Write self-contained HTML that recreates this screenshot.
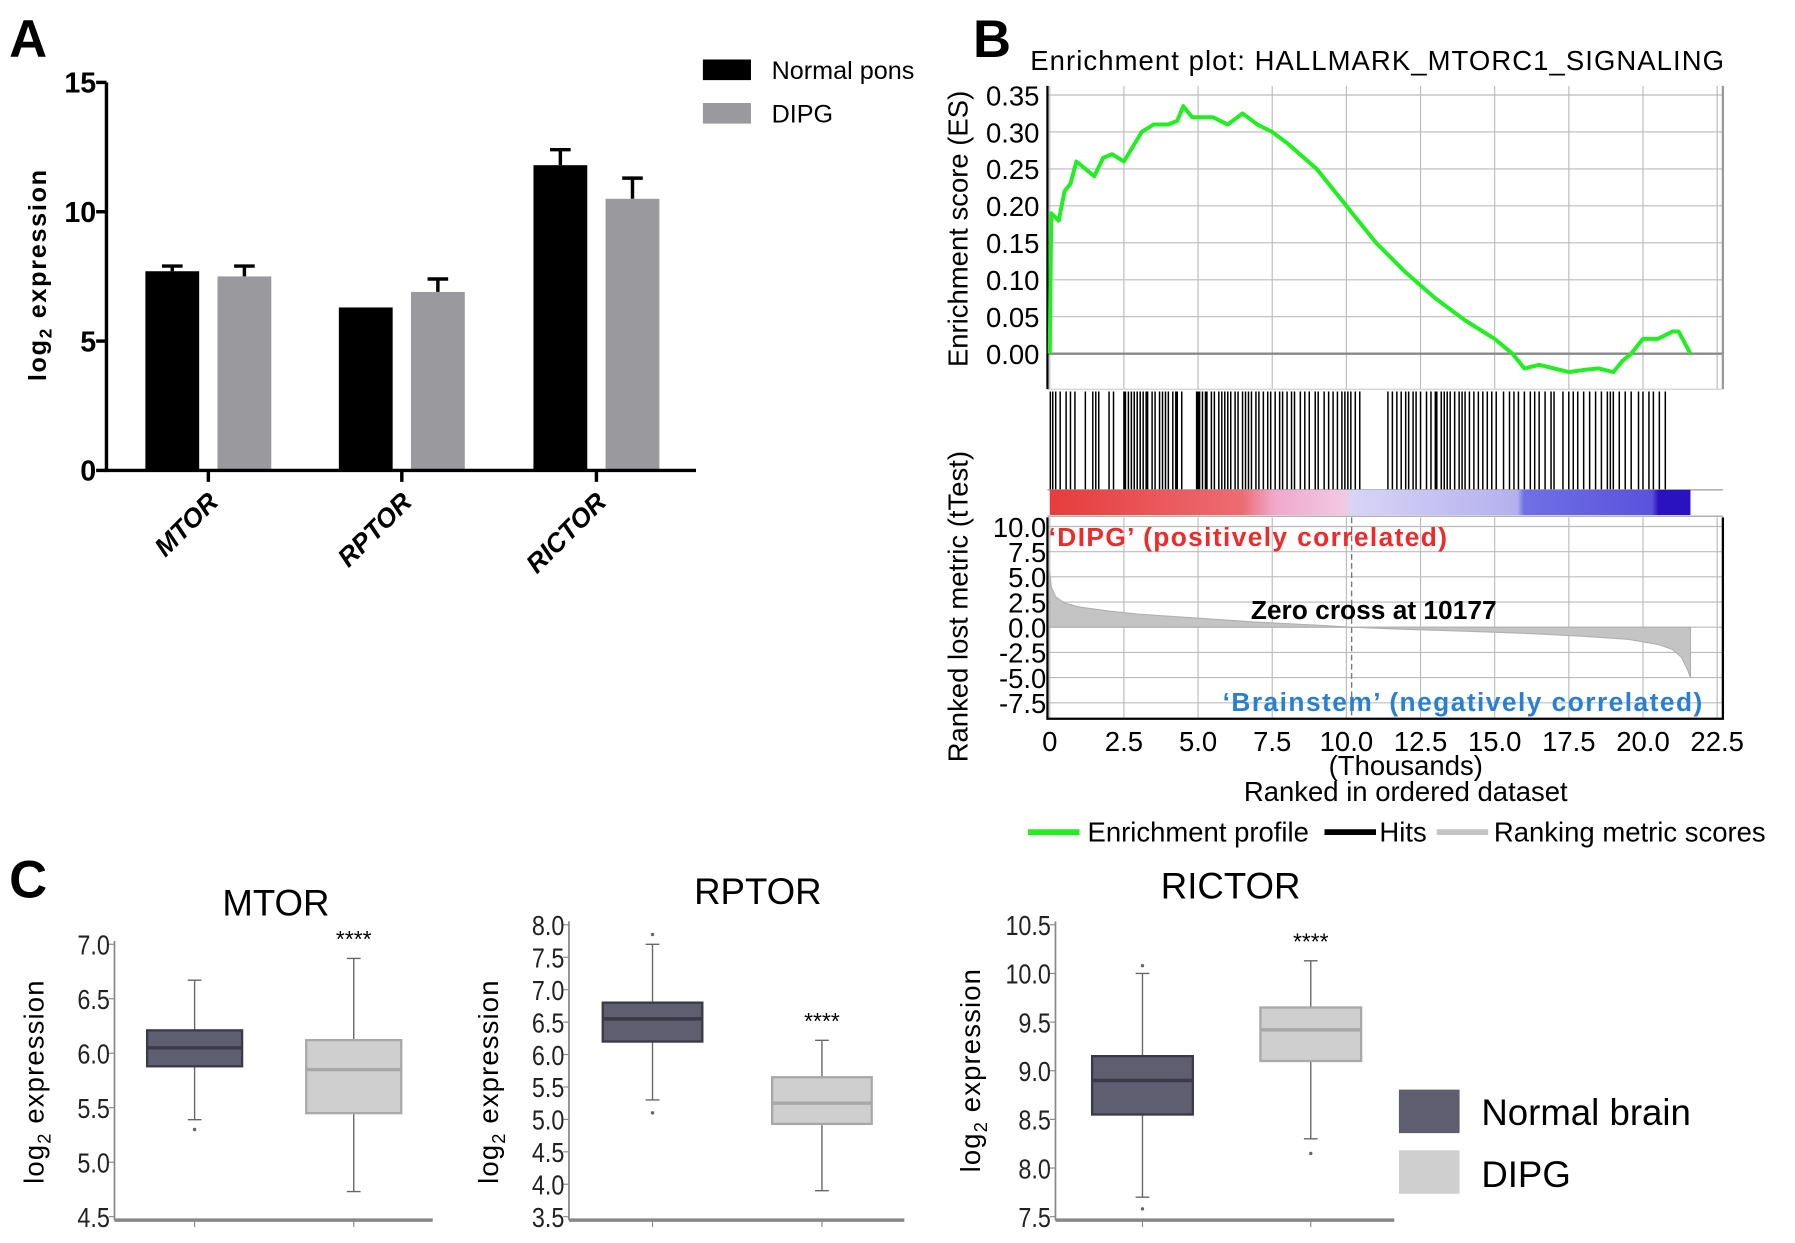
<!DOCTYPE html>
<html><head><meta charset="utf-8"><style>
html,body{margin:0;padding:0;background:#fff;}
svg{display:block;font-family:"Liberation Sans",Arial,sans-serif;}
</style></head><body>
<svg id="fig" width="1795" height="1243" viewBox="0 0 1568 1086" preserveAspectRatio="none" xmlns="http://www.w3.org/2000/svg">
<defs>
<linearGradient id="rankbar" x1="0" x2="1" y1="0" y2="0">
<stop offset="0" stop-color="#e63c3c"/><stop offset="0.3" stop-color="#ec6c72"/>
<stop offset="0.35" stop-color="#f0a8c8"/><stop offset="0.46" stop-color="#f2c8e4"/>
<stop offset="0.47" stop-color="#d8d4f6"/><stop offset="0.73" stop-color="#b4b0ee"/>
<stop offset="0.74" stop-color="#7070e6"/><stop offset="0.94" stop-color="#5a52dc"/>
<stop offset="0.95" stop-color="#2a12c0"/><stop offset="1" stop-color="#2a12c0"/>
</linearGradient>
</defs>
<g id="panelA"></g>
<g id="panelB"></g>
<g id="panelC"></g>
</svg>
<script>
// ---------- Panel A data ----------
const aCategories = ["MTOR","RPTOR","RICTOR"];
const aNormal = [7.7, 6.3, 11.8];
const aNormalErr = [0.2, 0, 0.6];
const aDipg = [7.5, 6.9, 10.5];
const aDipgErr = [0.4, 0.5, 0.8];
const aTicks = [0,5,10,15];

// ---------- Panel B data ----------
const esX = [0,0.05,0.3,0.5,0.7,0.9,1.2,1.5,1.8,2.1,2.5,2.8,3.1,3.5,4,4.3,4.5,4.8,5,5.5,6,6.5,7,7.5,8,9,10,11,12,13,14,15,15.6,16,16.5,17,17.5,18,18.5,19,19.3,19.6,20,20.5,21,21.2,21.6];
const esY = [0,0.19,0.18,0.22,0.23,0.26,0.25,0.24,0.265,0.27,0.26,0.28,0.30,0.31,0.31,0.315,0.335,0.32,0.32,0.32,0.31,0.325,0.31,0.30,0.285,0.25,0.20,0.15,0.11,0.075,0.045,0.02,0.0,-0.02,-0.015,-0.02,-0.025,-0.022,-0.02,-0.025,-0.01,0.0,0.02,0.02,0.03,0.03,0.0];
const hitRanks = [0.02,0.1,0.2,0.35,0.55,0.7,0.85,1.2,1.45,1.55,1.65,2.0,2.15,2.5,2.55,2.65,2.75,2.85,2.95,3.05,3.15,3.25,3.3,3.45,3.55,3.7,3.8,3.9,4.0,4.15,4.25,4.3,4.45,4.95,5.0,5.05,5.15,5.25,5.3,5.45,5.55,5.7,5.8,5.9,6.0,6.1,6.25,6.35,6.5,6.6,6.7,6.8,6.95,7.05,7.2,7.35,7.45,7.6,7.75,7.85,8.0,8.15,8.25,8.45,8.6,8.75,8.95,9.05,9.25,9.4,9.55,9.7,9.85,9.95,10.05,10.15,10.3,10.45,11.4,11.55,11.7,11.85,12.0,12.1,12.25,12.35,12.5,12.7,12.85,13.0,13.05,13.2,13.3,13.4,13.5,13.65,13.8,13.9,14.0,14.15,14.3,14.45,14.6,14.75,14.9,15.05,15.3,15.5,15.65,15.8,16.0,16.2,16.35,16.5,16.7,16.9,17.0,17.3,17.5,17.65,17.8,18.0,18.2,18.4,18.6,18.8,18.9,19.0,19.2,19.4,19.6,19.85,20.0,20.2,20.35,20.55,20.75];
const rankX = [0,0.05,0.2,0.5,1,2,3,5,7,9,10.177,12,14,16,18,19.5,20.5,21,21.3,21.5,21.6,21.6];
const rankY = [5.5,4.0,3.0,2.4,2.0,1.6,1.3,0.9,0.5,0.2,0,-0.2,-0.4,-0.6,-0.9,-1.2,-1.7,-2.2,-3.0,-4.2,-5.0,0];
const esTicks = [0,0.05,0.1,0.15,0.2,0.25,0.3,0.35];
const esTickLabels = ["0.00","0.05","0.10","0.15","0.20","0.25","0.30","0.35"];
const rankTicks = [10,7.5,5,2.5,0,-2.5,-5,-7.5];
const rankTickLabels = ["10.0","7.5","5.0","2.5","0.0","-2.5","-5.0","-7.5"];
const xTicksB = [0,2.5,5,7.5,10,12.5,15,17.5,20,22.5];
const xTickLabelsB = ["0","2.5","5.0","7.5","10.0","12.5","15.0","17.5","20.0","22.5"];
const zeroCross = 10.177;

// ---------- Panel C data ----------
const cGenes = ["MTOR","RPTOR","RICTOR"];
// [whiskerLow, q1, median, q3, whiskerHigh]
const cNormal = [[5.39,5.88,6.05,6.21,6.67],[5.3,6.2,6.55,6.8,7.7],[7.7,8.55,8.9,9.15,10.0]];
const cDipg = [[4.73,5.45,5.85,6.12,6.87],[3.9,4.93,5.25,5.65,6.22],[8.3,9.1,9.42,9.65,10.13]];
const cNormalOut = [[5.3],[5.1,7.85],[7.58,10.08]];
const cDipgOut = [[],[],[8.15]];
const cTickLabels = [["4.5","5.0","5.5","6.0","6.5","7.0"],["3.5","4.0","4.5","5.0","5.5","6.0","6.5","7.0","7.5","8.0"],["7.5","8.0","8.5","9.0","9.5","10.0","10.5"]];
const cRanges = [[4.5,7.0],[3.5,8.0],[7.5,10.5]];

const NS="http://www.w3.org/2000/svg";
function mk(parent,tag,attrs,text){const e=document.createElementNS(NS,tag);for(const k in attrs)e.setAttribute(k,attrs[k]);if(text!==undefined)e.textContent=text;parent.appendChild(e);return e;}

// ===== Panel A =====
(function(){
const g=document.getElementById('panelA');
const y=v=>411-v*(411-72)/15;
const cx=[182,351,521];
let t=mk(g,'text',{x:8,y:50,'font-size':46,'font-weight':'bold'},'A');


aCategories.forEach((c,i)=>{
  const b=mk(g,'rect',{x:cx[i]-55,y:y(aNormal[i]),width:47,height:y(0)-y(aNormal[i]),fill:'#000'});
  
  
  const d=mk(g,'rect',{x:cx[i]+8,y:y(aDipg[i]),width:47,height:y(0)-y(aDipg[i]),fill:'#9a9a9e'});
  
  
  [[cx[i]-31.5,aNormal[i],aNormalErr[i]],[cx[i]+31.5,aDipg[i],aDipgErr[i]]].forEach(([x,v,e])=>{
    if(e>0){const l=mk(g,'path',{d:`M${x} ${y(v)}V${y(v+e)}M${x-9} ${y(v+e)}H${x+9}`,stroke:'#000','stroke-width':3,fill:'none'});
    
    }
  });
  mk(g,'line',{x1:cx[i],x2:cx[i],y1:411,y2:421,stroke:'#000','stroke-width':3});
  const lb=mk(g,'text',{x:0,y:0,'font-size':23,'font-weight':'bold','font-style':'italic','text-anchor':'end',transform:`translate(${cx[i]+10},${440}) rotate(-45)`},c);
  
  
});
mk(g,'path',{d:'M93 72V411H608',stroke:'#000','stroke-width':3,fill:'none'});
aTicks.forEach(v=>{mk(g,'line',{x1:84,x2:93,y1:y(v),y2:y(v),stroke:'#000','stroke-width':3});
  const tl=mk(g,'text',{x:84,y:y(v)+9,'font-size':25,'font-weight':'bold','text-anchor':'end'},String(v));
  
  });
const yl=mk(g,'text',{x:0,y:0,'font-size':22,'font-weight':'bold','text-anchor':'middle',transform:'translate(40,240) rotate(-90)','letter-spacing':'1.5'});
yl.innerHTML='log<tspan font-size="15" dy="5">2</tspan><tspan dy="-5"> expression</tspan>';


const l1=mk(g,'rect',{x:614,y:52,width:42,height:18,fill:'#000'});


mk(g,'text',{x:674,y:69,'font-size':22},'Normal pons');
const l2=mk(g,'rect',{x:614,y:90,width:42,height:18,fill:'#9a9a9e'});


mk(g,'text',{x:674,y:107,'font-size':22},'DIPG');
})();

// ===== Panel B =====
(function(){
const g=document.getElementById('panelB');
const X=k=>917+k*(1500-917)/22.5;
const Yes=v=>309-v*(309-83)/0.35;
const Yr=v=>548-v*(548-460)/10;
let t=mk(g,'text',{x:850,y:50,'font-size':46,'font-weight':'bold'},'B');


t=mk(g,'text',{x:1203,y:61,'font-size':24,'text-anchor':'middle','textLength':606},'Enrichment plot: HALLMARK_MTORC1_SIGNALING');


xTicksB.forEach(k=>{mk(g,'line',{x1:X(k),x2:X(k),y1:75,y2:340,stroke:'#bbb','stroke-width':1});
  mk(g,'line',{x1:X(k),x2:X(k),y1:452,y2:628,stroke:'#bbb','stroke-width':1});});
esTicks.forEach((v,i)=>{mk(g,'line',{x1:915,x2:1505,y1:Yes(v),y2:Yes(v),stroke:v===0?'#888':'#bbb','stroke-width':v===0?2:1});
  const tl=mk(g,'text',{x:908,y:Yes(v)+9,'font-size':24,'text-anchor':'end'},esTickLabels[i]);
  
  });
rankTicks.forEach((v,i)=>{mk(g,'line',{x1:915,x2:1505,y1:Yr(v),y2:Yr(v),stroke:'#bbb','stroke-width':1});
  const tl=mk(g,'text',{x:914,y:Yr(v)+9,'font-size':24,'text-anchor':'end'},rankTickLabels[i]);
  
  });
mk(g,'line',{x1:1505,x2:1505,y1:75,y2:340,stroke:'#999','stroke-width':2});
mk(g,'line',{x1:915,x2:1505,y1:340,y2:340,stroke:'#ccc','stroke-width':1});
mk(g,'line',{x1:915,x2:915,y1:75,y2:340,stroke:'#000','stroke-width':2});
let hp='';hitRanks.forEach(k=>{hp+=`M${X(k).toFixed(1)} 342V428`;});
const hits=mk(g,'path',{d:hp,stroke:'#000','stroke-width':1.3,fill:'none'});


mk(g,'line',{x1:915,x2:1505,y1:428,y2:428,stroke:'#999','stroke-width':1});
const cb=mk(g,'rect',{x:X(0),y:428,width:X(21.6)-X(0),height:22,fill:'url(#rankbar)'});


mk(g,'line',{x1:915,x2:1505,y1:451,y2:451,stroke:'#999','stroke-width':1});
let rp=`M${X(0)} ${Yr(0)}`;rankX.forEach((k,i)=>{rp+=`L${X(k).toFixed(1)} ${Yr(rankY[i]).toFixed(1)}`;});rp+='Z';
const ra=mk(g,'path',{d:rp,fill:'#c4c4c4',stroke:'#b0b0b0','stroke-width':1});


mk(g,'line',{x1:X(zeroCross),x2:X(zeroCross),y1:452,y2:628,stroke:'#777','stroke-width':1.2,'stroke-dasharray':'5,3'});
mk(g,'path',{d:'M915 452V628H1505V452',stroke:'#000','stroke-width':2,fill:'none'});
let ep='';esX.forEach((k,i)=>{ep+=(i?'L':'M')+X(k).toFixed(1)+' '+Yes(esY[i]).toFixed(1);});
const ec=mk(g,'path',{d:ep,stroke:'#22ee22','stroke-width':3.5,fill:'none','stroke-linejoin':'round'});


xTicksB.forEach((k,i)=>{const tl=mk(g,'text',{x:X(k),y:656,'font-size':24,'text-anchor':'middle'},xTickLabelsB[i]);
  
  });
mk(g,'text',{x:1228,y:677,'font-size':24,'text-anchor':'middle'},'(Thousands)');
t=mk(g,'text',{x:1228,y:700,'font-size':24,'text-anchor':'middle'},'Ranked in ordered dataset');


t=mk(g,'text',{x:0,y:0,'font-size':24,'text-anchor':'middle',transform:'translate(845,200) rotate(-90)'},'Enrichment score (ES)');


t=mk(g,'text',{x:0,y:0,'font-size':24,'text-anchor':'middle',transform:'translate(845,530) rotate(-90)'},'Ranked lost metric (tTest)');


mk(g,'text',{x:916,y:477,'font-size':23,'font-weight':'bold',fill:'#ee2a2a','textLength':348},'\u2018DIPG\u2019 (positively correlated)');
mk(g,'text',{x:1200,y:541,'font-size':23,'font-weight':'bold','text-anchor':'middle'},'Zero cross at 10177');
mk(g,'text',{x:1068,y:621,'font-size':23,'font-weight':'bold',fill:'#2a80d0','textLength':419},'\u2018Brainstem\u2019 (negatively correlated)');
const lg=[[898,'#22ee22','Enrichment profile',950],[1157,'#000','Hits',1205],[1255,'#c4c4c4','Ranking metric scores',1305]];
lg.forEach(([x,c,s,tx])=>{const ll=mk(g,'line',{x1:x,x2:x+45,y1:727,y2:727,stroke:c,'stroke-width':5});
  
  
  mk(g,'text',{x:tx,y:735,'font-size':24},s);});
})();

// ===== Panel C =====
(function(){
const g=document.getElementById('panelC');
let t=mk(g,'text',{x:8,y:784,'font-size':46,'font-weight':'bold'},'C');


const layout=[{ax:100,top:825,bot:1063,xend:378,c:[170,309],bw:83,title:241,ty:800,yl:30,ylc:945},
 {ax:497,top:808,bot:1063,xend:790,c:[570,718],bw:87,title:662,ty:790,yl:427,ylc:945},
 {ax:922,top:808,bot:1063,xend:1218,c:[998,1145],bw:88,title:1075,ty:785,yl:848,ylc:935}];
cGenes.forEach((gene,i)=>{
  const L=layout[i],[lo,hi]=cRanges[i];
  const Y=v=>L.bot-(v-lo)*(L.bot-L.top)/(hi-lo);
  const tt=mk(g,'text',{x:L.title,y:L.ty,'font-size':32,'text-anchor':'middle'},gene);
  
  
  mk(g,'line',{x1:L.ax,x2:L.ax,y1:L.top-3,y2:L.bot+3,stroke:'#888','stroke-width':1.5});
  mk(g,'line',{x1:L.ax,x2:L.xend,y1:L.bot+3,y2:L.bot+3,stroke:'#888','stroke-width':3});
  L.c.forEach(cx=>mk(g,'line',{x1:cx,x2:cx,y1:L.bot+3,y2:L.bot+9,stroke:'#888','stroke-width':1}));
  cTickLabels[i].forEach(s=>{const v=parseFloat(s);mk(g,'line',{x1:L.ax-5,x2:L.ax,y1:Y(v),y2:Y(v),stroke:'#888','stroke-width':1});
    const tl=mk(g,'text',{x:L.ax-4,y:Y(v)+9,'font-size':24,'text-anchor':'end',fill:'#222',transform:`translate(${L.ax-4},0) scale(0.85,1) translate(${-(L.ax-4)},0)`},s);
    
    });
  const yl=mk(g,'text',{x:0,y:0,'font-size':24,'text-anchor':'middle',transform:`translate(${L.yl+8},${L.ylc}) rotate(-90)`,'letter-spacing':'1'});
  yl.innerHTML='log<tspan font-size="16" dy="6">2</tspan><tspan dy="-6"> expression</tspan>';
  
  
  [[cNormal[i],cNormalOut[i],'#5f5e70','#3a3948','normal'],[cDipg[i],cDipgOut[i],'#cfcfcf','#a8a8a8','dipg']].forEach(([s,outs,fill,stroke,nm],j)=>{
    const cx=L.c[j],hw=L.bw/2;
    mk(g,'path',{d:`M${cx} ${Y(s[0])}V${Y(s[1])}M${cx} ${Y(s[3])}V${Y(s[4])}M${cx-6} ${Y(s[0])}H${cx+6}M${cx-6} ${Y(s[4])}H${cx+6}`,stroke:'#666','stroke-width':1.2,fill:'none'});
    const bx=mk(g,'rect',{x:cx-hw,y:Y(s[3]),width:L.bw,height:Y(s[1])-Y(s[3]),fill:fill,stroke:stroke,'stroke-width':2});
    
    
    mk(g,'line',{x1:cx-hw,x2:cx+hw,y1:Y(s[2]),y2:Y(s[2]),stroke:stroke,'stroke-width':3});
    outs.forEach(o=>mk(g,'circle',{cx:cx,cy:Y(o),r:1.5,fill:'#666'}));
  });
  const star=mk(g,'text',{x:L.c[1],y:Y(cDipg[i][4])-10,'font-size':20,'text-anchor':'middle'},'****');
  
  
});
const s1=mk(g,'rect',{x:1222,y:952,width:53,height:38,fill:'#5f5e70'});


mk(g,'text',{x:1294,y:983,'font-size':32},'Normal brain');
const s2=mk(g,'rect',{x:1222,y:1005,width:53,height:38,fill:'#cfcfcf'});


mk(g,'text',{x:1294,y:1037,'font-size':32},'DIPG');
})();
</script>
</body></html>
